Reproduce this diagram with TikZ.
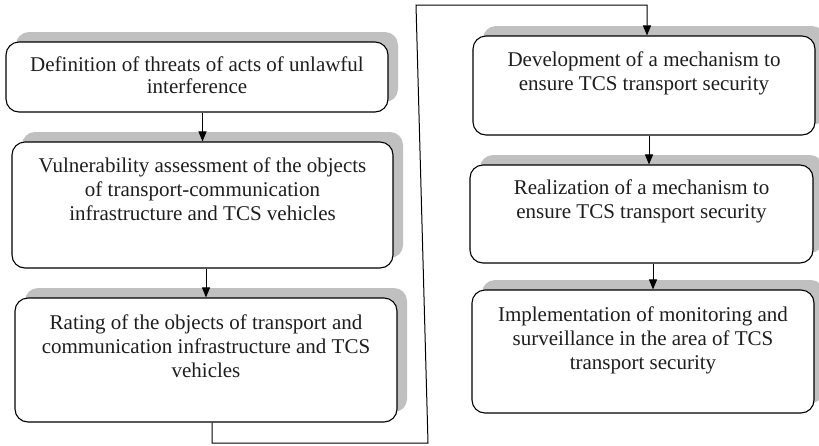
\documentclass[tikz,border=0pt]{standalone}
\usepackage{fontspec}
\setmainfont{Liberation Serif}
\usetikzlibrary{arrows.meta,calc}
\definecolor{shadowgray}{RGB}{192,192,192}
\definecolor{txtcol}{RGB}{30,30,30}
\tikzset{
  stepbox/.style={draw=black, line width=1.1pt, fill=white, rounded corners=13pt, inner sep=0pt},
  shadowbox/.style={fill=shadowgray, rounded corners=13pt, inner sep=0pt},
  conn/.style={line width=1pt, draw=black},
  arr/.style={conn, -{Triangle[length=10pt,width=8pt]}},
  lbl/.style={anchor=base, inner sep=0pt, text=txtcol, font=\fontsize{21}{24}\selectfont},
}
\begin{document}
\begin{tikzpicture}[x=1pt,y=-1pt]
\useasboundingbox (0,0) rectangle (819,445);
% shadows
\node[shadowbox, minimum width=382pt, minimum height=70pt] (s1) at (207,67) {};
\node[shadowbox, minimum width=381pt, minimum height=126pt] (s2) at (212.5,195) {};
\node[shadowbox, minimum width=382pt, minimum height=124pt] (s3) at (216,350) {};
\node[shadowbox, minimum width=342pt, minimum height=99pt] (s4) at (654,75.5) {};
\node[shadowbox, minimum width=343pt, minimum height=98pt] (s5) at (651.5,204) {};
\node[shadowbox, minimum width=342pt, minimum height=123pt] (s6) at (653,341.5) {};
% boxes
\node[stepbox, minimum width=382pt, minimum height=70pt] (b1) at (197,77) {};
\node[stepbox, minimum width=381pt, minimum height=126pt] (b2) at (202.5,205) {};
\node[stepbox, minimum width=382pt, minimum height=124pt] (b3) at (206,360) {};
\node[stepbox, minimum width=342pt, minimum height=99pt] (b4) at (644,85.5) {};
\node[stepbox, minimum width=343pt, minimum height=98pt] (b5) at (641.5,214) {};
\node[stepbox, minimum width=342pt, minimum height=123pt] (b6) at (643,351.5) {};
% texts
\node[lbl, font=\fontsize{21}{22}\selectfont] (t1) at ($(b1.north)+(0,30)$) {\begin{tabular}[t]{@{}c@{}}Definition of threats of acts of unlawful\\ interference\end{tabular}};
\node[lbl] (t2) at ($(b2.north)+(0,31)$) {\begin{tabular}[t]{@{}c@{}}Vulnerability assessment of the objects\\ of transport-communication\\ infrastructure and TCS vehicles\end{tabular}};
\node[lbl] (t3) at ($(b3.north)+(0,32)$) {\begin{tabular}[t]{@{}c@{}}Rating of the objects of transport and\\ communication infrastructure and TCS\\ vehicles\end{tabular}};
\node[lbl] (t4) at ($(b4.north)+(0,31)$) {\begin{tabular}[t]{@{}c@{}}Development of a mechanism to\\ ensure TCS transport security\end{tabular}};
\node[lbl] (t5) at ($(b5.north)+(0,30)$) {\begin{tabular}[t]{@{}c@{}}Realization of a mechanism to\\ ensure TCS transport security\end{tabular}};
\node[lbl] (t6) at ($(b6.north)+(0,32)$) {\begin{tabular}[t]{@{}c@{}}Implementation of monitoring and\\ surveillance in the area of TCS\\ transport security\end{tabular}};
% connectors
\draw[arr] (b2.north |- b1.south) -- (b2.north);
\draw[arr] (b3.north |- b2.south) -- (b3.north);
\coordinate (k1) at (649,0);
\coordinate (k2) at (653,0);
\draw[arr] (k1 |- b4.south) -- (k1 |- b5.north);
\draw[arr] (k2 |- b5.south) -- (k2 |- b6.north);
\coordinate (c0) at (212,0);
\coordinate (c1) at (212,443);
\coordinate (c2) at (428,443);
\coordinate (c3) at (416,5);
\coordinate (c4) at (647,5);
\draw[arr] (c0 |- b3.south) -- (c1) -- (c2) -- (c3) -- (c4) -- (c4 |- b4.north);
\end{tikzpicture}
\end{document}
